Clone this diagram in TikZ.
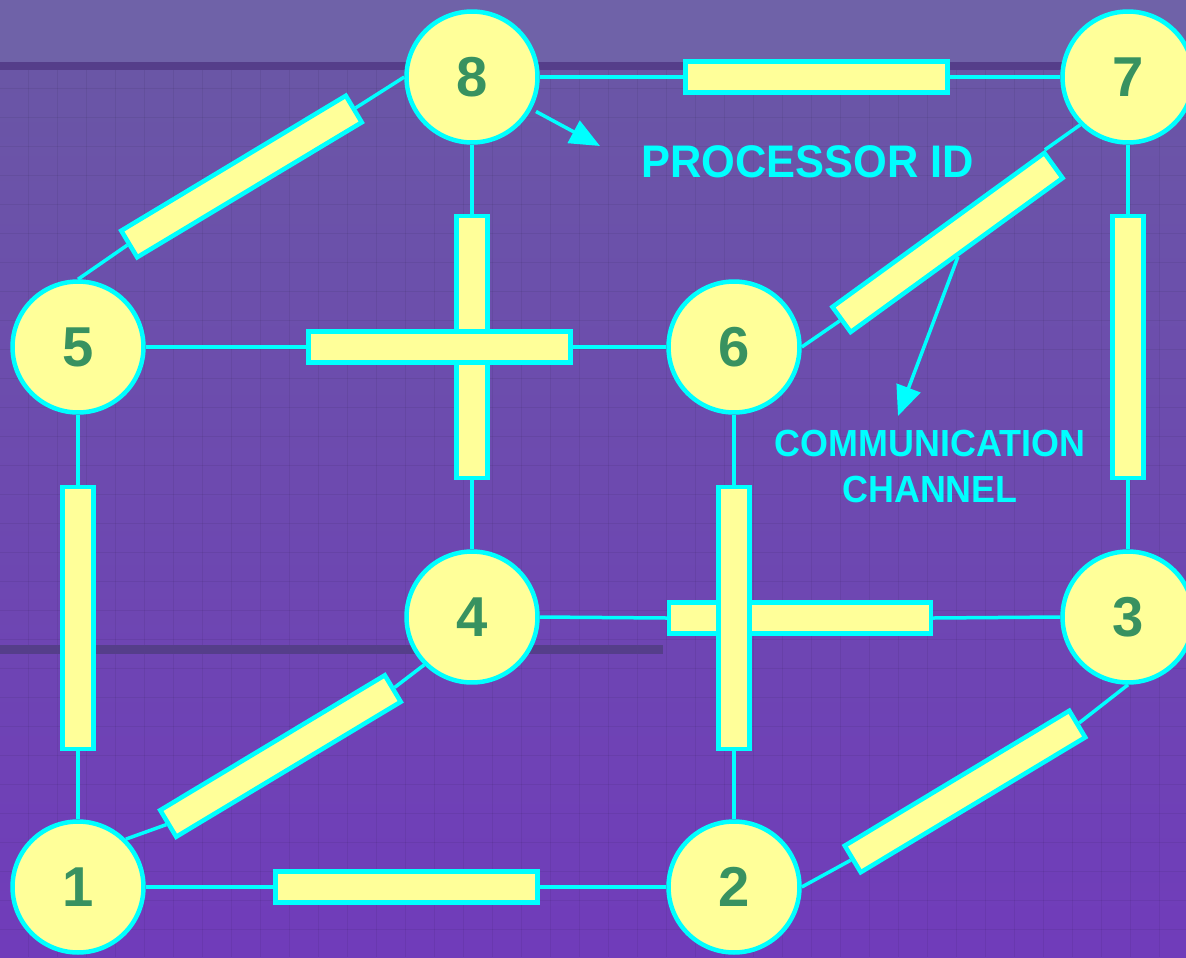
\documentclass[tikz,border=0pt]{standalone}
\usepackage{fontspec}
\setmainfont{Liberation Sans}
\newfontfamily\tagfont[FakeStretch=0.95]{Liberation Sans}
\usetikzlibrary{arrows.meta}

\definecolor{wire}{RGB}{0,255,255}
\definecolor{cell}{RGB}{255,255,153}
\definecolor{idgreen}{RGB}{56,146,96}
\definecolor{band}{RGB}{111,98,168}
\definecolor{stripe}{RGB}{85,62,138}
\definecolor{bgtop}{RGB}{106,86,166}
\definecolor{bgmid}{RGB}{122,70,200}
\definecolor{bgbot}{RGB}{112,60,186}

\begin{document}
\begin{tikzpicture}[x=0.02cm, y=-0.02cm,
		proc/.style={circle, draw=wire, line width=0.09cm, fill=cell, minimum size=2.62cm, inner sep=0pt,
			text=idgreen, font=\fontsize{32}{36}\selectfont\bfseries},
		chan/.style={rectangle, draw=wire, line width=0.09cm, fill=cell, minimum width=5.24cm,
			minimum height=0.62cm, inner sep=0pt},
		link/.style={draw=wire, line width=0.07cm},
		pointer/.style={link, -{Triangle[length=0.6cm, width=0.5cm]}},
		tag/.style={text=wire, inner sep=0pt, align=center},
		gridline/.style={draw=black, opacity=0.06, line width=0.02cm}]
	\useasboundingbox (0,0) rectangle (1186,957);

	% backdrop
	\fill[band] (0,0) rectangle (1186,62);
	\shade[top color=bgtop, middle color=bgmid, bottom color=bgbot] (0,70) rectangle (1186,957);
	\foreach \gx in {28,57,...,1186} \draw[gridline] (\gx,70) -- (\gx,957);
	\foreach \gy in {88,117,...,957} \draw[gridline] (0,\gy) -- (1186,\gy);
	\fill[stripe] (0,62) rectangle (1186,70);
	\fill[stripe] (0,645) rectangle (663,654);

	% processors
	\node[proc] (n8) at (472,77) {8};
	\node[proc] (n7) at (1128,77) {7};
	\node[proc] (n5) at (78,347) {5};
	\node[proc] (n6) at (734,347) {6};
	\node[proc] (n4) at (472,617) {4};
	\node[proc] (n3) at (1128,617) {3};
	\node[proc] (n1) at (78,887) {1};
	\node[proc] (n2) at (734,887) {2};

	% channels (verticals under the crossing horizontal on the left, over it on the right)
	\node[chan] (c87) at (816.5,77) {};
	\node[chan, rotate=-90] (c84) at (472,347) {};
	\node[chan] (c56) at (439.5,347) {};
	\node[chan, rotate=-90] (c73) at (1128,347) {};
	\node[chan, rotate=-90] (c51) at (78,618) {};
	\node[chan] (c43) at (800,618) {};
	\node[chan, rotate=-90] (c62) at (734,618) {};
	\node[chan] (c12) at (406.5,887) {};
	\node[chan, rotate=31] (c58) at (241.5,176.5) {};
	\node[chan, rotate=36] (c67) at (947.5,242.5) {};
	\node[chan, rotate=31] (c14) at (280.5,756) {};
	\node[chan, rotate=31] (c23) at (965,791.5) {};

	% wires
	\draw[link] (n8.east) -- (c87.west) (c87.east) -- (n7.west);
	\draw[link] (n8.south) -- (c84.west) (c84.east) -- (n4.north);
	\draw[link] (n5.east) -- (c56.west) (c56.east) -- (n6.west);
	\draw[link] (n7.south) -- (c73.west) (c73.east) -- (n3.north);
	\draw[link] (n5.south) -- (c51.west) (c51.east) -- (n1.north);
	\draw[link] (n4.east) -- (c43.west) (c43.east) -- (n3.west);
	\draw[link] (n6.south) -- (c62.west) (c62.east) -- (n2.north);
	\draw[link] (n1.east) -- (c12.west) (c12.east) -- (n2.west);
	\draw[link] (n5.north) -- (c58.west) (c58.east) -- (n8.west);
	\draw[link] (n6.east) -- (c67.west) (c67.north east) -- (n7.south west);
	\draw[link] (n1.north east) -- (c14.west) (c14.east) -- (n4.south west);
	\draw[link] (n2.east) -- (c23.west) (c23.east) -- (n3.south);

	% labels
	\coordinate (idtip) at (600,146);
	\coordinate (chtip) at (898,416);
	\draw[pointer, shorten <=0.1cm] (n8) -- (idtip);
	\draw[pointer] (c67.south) -- (chtip);
	\node[tag, anchor=base, font=\tagfont\bfseries\fontsize{26}{30}\selectfont] (procid) at (807.5,177) {PROCESSOR ID};
	\node[tag, font=\tagfont\bfseries\fontsize{21.5}{26}\selectfont] (chname) at (930,466.5) {COMMUNICATION\\CHANNEL};
\end{tikzpicture}
\end{document}
